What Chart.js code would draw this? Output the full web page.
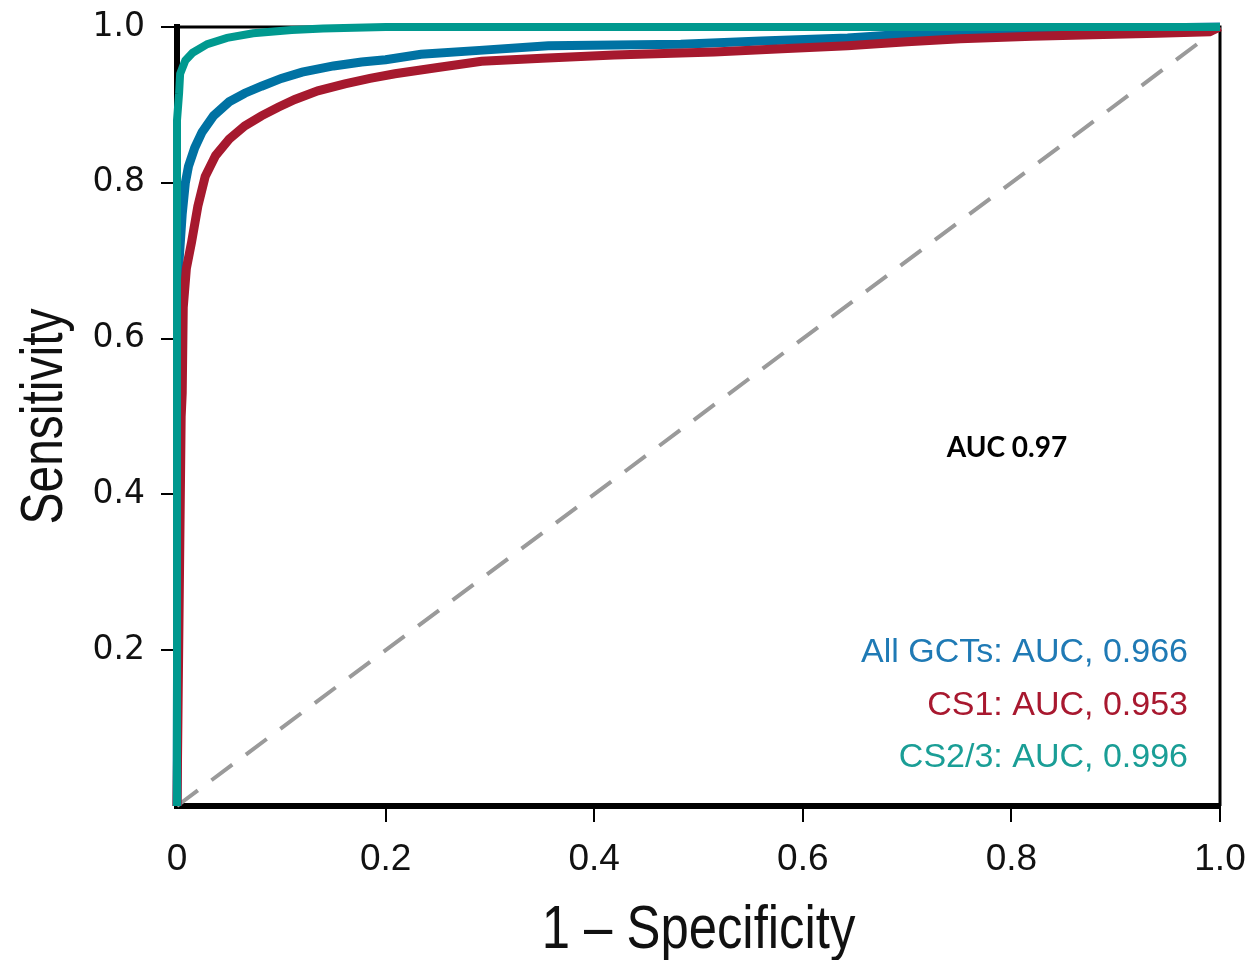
<!DOCTYPE html>
<html>
<head>
<meta charset="utf-8">
<title>ROC curves</title>
<script src="https://cdn.jsdelivr.net/npm/chart.js@4/dist/chart.umd.min.js"></script>
<style>
  html, body { margin: 0; padding: 0; background: #fff; }
  #wrap { width: 1253px; height: 960px; position: relative; }
</style>
</head>
<body>
<div id="wrap"><canvas id="roc-chart"></canvas></div>
<script>
// ROC curves
const xTickLabels = ['0', '0.2', '0.4', '0.6', '0.8', '1.0'];
const yTickLabels = ['', '0.2', '0.4', '0.6', '0.8', '1.0'];

const tealFpr = [0, 0, 0.002, 0.003, 0.008, 0.015, 0.029, 0.048, 0.073, 0.11, 0.14, 0.2, 1.0];
const tealTpr = [0, 0.88, 0.915, 0.94, 0.957, 0.967, 0.978, 0.986, 0.992, 0.996, 0.998, 1.0, 1.0];

const blueFpr = [0, 0.002, 0.005, 0.008, 0.011, 0.017, 0.024, 0.035, 0.05, 0.065, 0.081, 0.1, 0.12, 0.15, 0.177, 0.2, 0.234, 0.29, 0.356, 0.42, 0.483, 0.56, 0.643, 0.69, 0.75, 0.85, 1.0];
const blueTpr = [0, 0.70, 0.76, 0.80, 0.821, 0.845, 0.865, 0.886, 0.904, 0.915, 0.924, 0.934, 0.942, 0.95, 0.955, 0.958, 0.965, 0.97, 0.976, 0.977, 0.978, 0.982, 0.986, 0.99, 0.993, 0.997, 1.0];

const redFpr = [0, 0.004, 0.005, 0.006, 0.009, 0.014, 0.02, 0.027, 0.037, 0.05, 0.065, 0.081, 0.097, 0.113, 0.135, 0.161, 0.185, 0.209, 0.25, 0.292, 0.35, 0.419, 0.515, 0.58, 0.643, 0.7, 0.751, 0.82, 0.878, 0.94, 0.99, 1.0];
const redTpr = [0, 0.50, 0.53, 0.64, 0.69, 0.724, 0.77, 0.808, 0.835, 0.856, 0.873, 0.886, 0.897, 0.907, 0.918, 0.927, 0.934, 0.94, 0.948, 0.956, 0.96, 0.964, 0.968, 0.972, 0.976, 0.981, 0.985, 0.988, 0.99, 0.992, 0.994, 1.0];

const chanceFpr = [0, 1];
const chanceTpr = [0, 1];

const xTitle = '1 \u2013 Specificity';
const yTitle = 'Sensitivity';
const legendLines = ['All GCTs: AUC, 0.966', 'CS1: AUC, 0.953', 'CS2/3: AUC, 0.996'];
const overallLabel = 'AUC 0.97';

const COLORS = {
  teal: '#00998f',
  blue: '#0072a3',
  red: '#a6192e',
  gray: '#9a9a9a',
  blueText: '#1f7ab5',
  redText: '#a8182f',
  tealText: '#1a9e96'
};

function toPoints(xs, ys) {
  return xs.map((x, i) => ({ x: x, y: ys[i] }));
}

// frame (top/right), axis titles and text annotations
const framePlugin = {
  id: 'frame',
  beforeDatasetsDraw(chart) {
    const { ctx, chartArea: a } = chart;
    ctx.save();
    ctx.strokeStyle = '#000';
    ctx.lineWidth = 3;
    ctx.beginPath();
    ctx.moveTo(a.left, a.top);
    ctx.lineTo(a.right, a.top);
    ctx.lineTo(a.right, a.bottom);
    ctx.stroke();
    ctx.restore();
  },
  afterDraw(chart) {
    const { ctx, chartArea: a } = chart;
    ctx.save();
    ctx.fillStyle = '#111';
    ctx.textBaseline = 'alphabetic';
    ctx.textAlign = 'center';

    // axis titles, squeezed to imitate the condensed face of the original
    ctx.save();
    ctx.font = '62px "Liberation Sans", Arial, sans-serif';
    ctx.translate((a.left + a.right) / 2, 948);
    ctx.scale(0.82, 1);
    ctx.fillText(xTitle, 0, 0);
    ctx.restore();

    ctx.save();
    ctx.font = '60px "Liberation Sans", Arial, sans-serif';
    ctx.translate(62, (a.top + a.bottom) / 2);
    ctx.rotate(-Math.PI / 2);
    ctx.scale(0.8, 1);
    ctx.fillText(yTitle, 0, 0);
    ctx.restore();

    ctx.fillStyle = '#000';
    ctx.font = 'bold 28px Lato, "Liberation Sans", sans-serif';
    ctx.fillText(overallLabel, 1007, 457);

    const textColors = [COLORS.blueText, COLORS.redText, COLORS.tealText];
    ctx.textAlign = 'right';
    ctx.font = '34px "Liberation Sans", Arial, sans-serif';
    legendLines.forEach((line, i) => {
      ctx.fillStyle = textColors[i];
      ctx.fillText(line, 1188, 662 + i * 52.5);
    });
    ctx.restore();
  }
};

function tickColor(c) {
  return c.tick && c.tick.value === 0 ? 'rgba(0,0,0,0)' : '#000';
}

function noOverflow(scale) {
  scale.paddingTop = 0;
  scale.paddingBottom = 0;
  scale.paddingLeft = 0;
  scale.paddingRight = 0;
}

function initRocChart(ctx) {
  return new Chart(ctx, {
    type: 'line',
    data: {
      datasets: [
        { label: 'CS2/3', data: toPoints(tealFpr, tealTpr), borderColor: COLORS.teal, borderWidth: 8 },
        { label: 'CS1', data: toPoints(redFpr, redTpr), borderColor: COLORS.red, borderWidth: 9 },
        { label: 'All GCTs', data: toPoints(blueFpr, blueTpr), borderColor: COLORS.blue, borderWidth: 9 },
        { label: 'Chance', data: toPoints(chanceFpr, chanceTpr), borderColor: COLORS.gray, borderWidth: 4, borderDash: [26, 17] }
      ]
    },
    options: {
      responsive: true,
      maintainAspectRatio: false,
      animation: false,
      events: [],
      clip: false,
      elements: {
        point: { radius: 0 },
        line: { tension: 0, fill: false, borderCapStyle: 'butt' }
      },
      layout: { padding: { top: 27, right: 33, left: 0, bottom: 0 } },
      plugins: { legend: { display: false }, tooltip: { enabled: false } },
      scales: {
        x: {
          type: 'linear',
          min: 0,
          max: 1,
          afterFit(scale) { scale.height = 154; noOverflow(scale); },
          ticks: {
            stepSize: 0.2,
            color: '#111',
            padding: 16,
            maxRotation: 0,
            font: { family: '"Liberation Sans", Arial, sans-serif', size: 37 },
            callback: (v) => xTickLabels[Math.round(v * 5)]
          },
          grid: { drawOnChartArea: false, drawTicks: true, tickLength: 16, lineWidth: 2, color: tickColor },
          border: { display: true, color: '#000', width: 6 }
        },
        y: {
          type: 'linear',
          min: 0,
          max: 1,
          afterFit(scale) { scale.width = 177; noOverflow(scale); },
          ticks: {
            stepSize: 0.2,
            color: '#111',
            padding: 16,
            font: { family: '"DejaVu Sans", sans-serif', size: 33 },
            callback: (v) => yTickLabels[Math.round(v * 5)]
          },
          grid: { drawOnChartArea: false, drawTicks: true, tickLength: 16, lineWidth: 2, color: tickColor },
          border: { display: true, color: '#000', width: 6 }
        }
      }
    },
    plugins: [framePlugin]
  });
}

document.addEventListener('DOMContentLoaded', function() {
  initRocChart(document.getElementById('roc-chart'));
});
</script>
</body>
</html>
